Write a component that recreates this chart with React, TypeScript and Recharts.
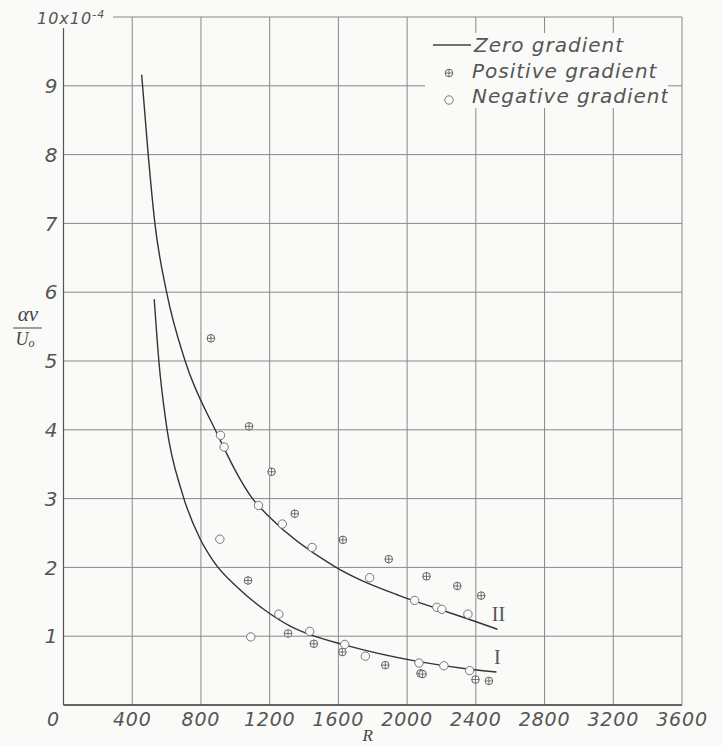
import React from 'react';
import {
  ComposedChart,
  Line,
  Scatter,
  XAxis,
  YAxis,
  CartesianGrid,
  LabelList
} from 'recharts';

// axis ticks
const rTicks = [0, 400, 800, 1200, 1600, 2000, 2400, 2800, 3200, 3600];
const valueTicks = [0, 1, 2, 3, 4, 5, 6, 7, 8, 9, 10];

// zero gradient, curve I
const curveIR = [528, 555, 600, 691, 794, 870, 1026, 1200, 1317, 1416, 1640, 2069, 2364, 2520];
const curveIVal = [5.9, 5.0, 4.05, 3.08, 2.42, 2.1, 1.68, 1.33, 1.15, 1.04, 0.87, 0.63, 0.52, 0.48];

// zero gradient, curve II
const curveIIR = [455, 493, 532, 600, 708, 883, 1100, 1200, 1567, 1955, 2202, 2402, 2526];
const curveIIVal = [9.16, 8.0, 7.0, 6.0, 5.0, 4.0, 3.0, 2.73, 2.03, 1.59, 1.38, 1.21, 1.1];

// positive gradient points
const posR = [858, 1080, 1211, 1346, 1626, 1893, 2113, 2292, 2431, 1074, 1307, 1457, 1623, 1873, 2078, 2090, 2398, 2476];
const posVal = [5.33, 4.05, 3.39, 2.78, 2.4, 2.12, 1.87, 1.73, 1.59, 1.81, 1.04, 0.89, 0.77, 0.58, 0.46, 0.45, 0.37, 0.35];

// negative gradient points
const negR = [914, 935, 1135, 1274, 1447, 910, 1782, 2044, 2173, 2202, 2354, 1253, 1090, 1433, 1637, 1757, 2069, 2214, 2364];
const negVal = [3.92, 3.75, 2.9, 2.63, 2.29, 2.41, 1.85, 1.52, 1.42, 1.39, 1.32, 1.32, 0.99, 1.07, 0.88, 0.71, 0.61, 0.57, 0.5];

const zip = (xs: number[], ys: number[]) => xs.map((x, i) => ({ x, y: ys[i] }));

const curveI = zip(curveIR, curveIVal);
const curveII = zip(curveIIR, curveIIVal);
const positive = zip(posR, posVal);
const negative = zip(negR, negVal);

const BG = '#fafaf8';
const INK = '#555';
const LETTER = "'DejaVu Sans', 'Liberation Sans', sans-serif";
const SERIF = "'Liberation Serif', 'DejaVu Serif', serif";

const PlusCircle = (props: any) => {
  const { cx, cy } = props;
  const r = 3.8;
  return (
    <g>
      <circle cx={cx} cy={cy} r={r} fill={BG} stroke="#555" strokeWidth={0.9} />
      <line x1={cx - r} y1={cy} x2={cx + r} y2={cy} stroke="#555" strokeWidth={0.8} />
      <line x1={cx} y1={cy - r} x2={cx} y2={cy + r} stroke="#555" strokeWidth={0.8} />
    </g>
  );
};

const OpenCircle = (props: any) => {
  const { cx, cy } = props;
  return <circle cx={cx} cy={cy} r={4.2} fill={BG} stroke="#777" strokeWidth={1} />;
};

const XTick = (props: any) => {
  const { x, y, payload } = props;
  const dx = payload.value === 0 ? -10 : 0;
  return (
    <text x={x + dx} y={y + 13} textAnchor="middle" fill={INK} fontFamily={LETTER}
      fontStyle="italic" fontWeight={200} fontSize={19} letterSpacing={0.8}>
      {payload.value}
    </text>
  );
};

const YTick = (props: any) => {
  const { x, y, payload } = props;
  if (payload.value === 0) return null;
  if (payload.value === 10) {
    return (
      <g>
        <rect x={28} y={4} width={85} height={24} fill={BG} />
        <text x={x - 18.5} y={y + 7} fill={INK} fontFamily={LETTER} fontStyle="italic"
          fontWeight={200} fontSize={16} letterSpacing={1}>
          10x10<tspan fontSize={11} dy={-6}>-4</tspan>
        </text>
      </g>
    );
  }
  return (
    <text x={x + 2} y={y} dy="0.36em" textAnchor="end" fill={INK} fontFamily={LETTER}
      fontStyle="italic" fontWeight={200} fontSize={20}>
      {payload.value}
    </text>
  );
};

const YLabel = () => (
  <g fill="#444" fontFamily={SERIF} fontStyle="italic">
    <text x={28} y={321} textAnchor="middle" fontSize={21}>αν</text>
    <line x1={13} y1={328} x2={42} y2={328} stroke="#444" strokeWidth={1} />
    <text x={25} y={345} textAnchor="middle" fontSize={18}>
      U<tspan fontSize={12} dy={2}>o</tspan>
    </text>
  </g>
);

const XLabel = (props: any) => {
  const { viewBox } = props;
  return (
    <text x={viewBox.x + viewBox.width / 2 - 5} y={741} textAnchor="middle" fill="#444"
      fontFamily={SERIF} fontStyle="italic" fontSize={17}>
      R
    </text>
  );
};

const curveTag = (tag: string, last: number) => (props: any) => {
  const { x, y, index } = props;
  if (index !== last) return null;
  return (
    <text x={x + 1} y={y - 8} textAnchor="middle" fill="#555" fontFamily={SERIF} fontSize={20}>
      {tag}
    </text>
  );
};

const Legend = () => (
  <div style={{ position: 'absolute', left: 425, top: 33, width: 243, height: 75, background: BG }}>
    <svg width={243} height={75}>
      <g fill={INK} fontFamily={LETTER} fontStyle="italic" fontWeight={200} fontSize={20} letterSpacing={1}>
        <line x1={8} y1={12} x2={46} y2={12} stroke="#444" strokeWidth={1.3} />
        <text x={49} y={19}>Zero gradient</text>
        <PlusCircle cx={24} cy={40} />
        <text x={47} y={45}>Positive gradient</text>
        <OpenCircle cx={24} cy={67} />
        <text x={47} y={70}>Negative gradient</text>
      </g>
    </svg>
  </div>
);

export default function App() {
  return (
    <div style={{ position: 'fixed', left: 0, top: 0, width: 723, height: 746, background: BG }}>
      <ComposedChart width={723} height={746} margin={{ top: 17, right: 41, bottom: 10, left: 3.5 }}>
        <CartesianGrid stroke="#888" strokeWidth={1} />
        <XAxis
          type="number"
          dataKey="x"
          domain={[0, 3600]}
          ticks={rTicks}
          allowDataOverflow
          height={31}
          tick={<XTick />}
          tickLine={false}
          axisLine={{ stroke: '#444', strokeWidth: 1.6 }}
          label={<XLabel />}
        />
        <YAxis
          type="number"
          domain={[0, 10]}
          ticks={valueTicks}
          allowDataOverflow
          width={60}
          tick={<YTick />}
          tickLine={false}
          axisLine={{ stroke: '#555', strokeWidth: 1.2 }}
          label={<YLabel />}
        />
        <Line data={curveII} dataKey="y" type="monotone" stroke="#333" strokeWidth={1.4}
          dot={false} activeDot={false} isAnimationActive={false}>
          <LabelList dataKey="y" content={curveTag('II', curveII.length - 1)} />
        </Line>
        <Line data={curveI} dataKey="y" type="monotone" stroke="#333" strokeWidth={1.4}
          dot={false} activeDot={false} isAnimationActive={false}>
          <LabelList dataKey="y" content={curveTag('I', curveI.length - 1)} />
        </Line>
        <Scatter data={positive} dataKey="y" shape={<PlusCircle />} isAnimationActive={false} />
        <Scatter data={negative} dataKey="y" shape={<OpenCircle />} isAnimationActive={false} />
      </ComposedChart>
      <Legend />
    </div>
  );
}
